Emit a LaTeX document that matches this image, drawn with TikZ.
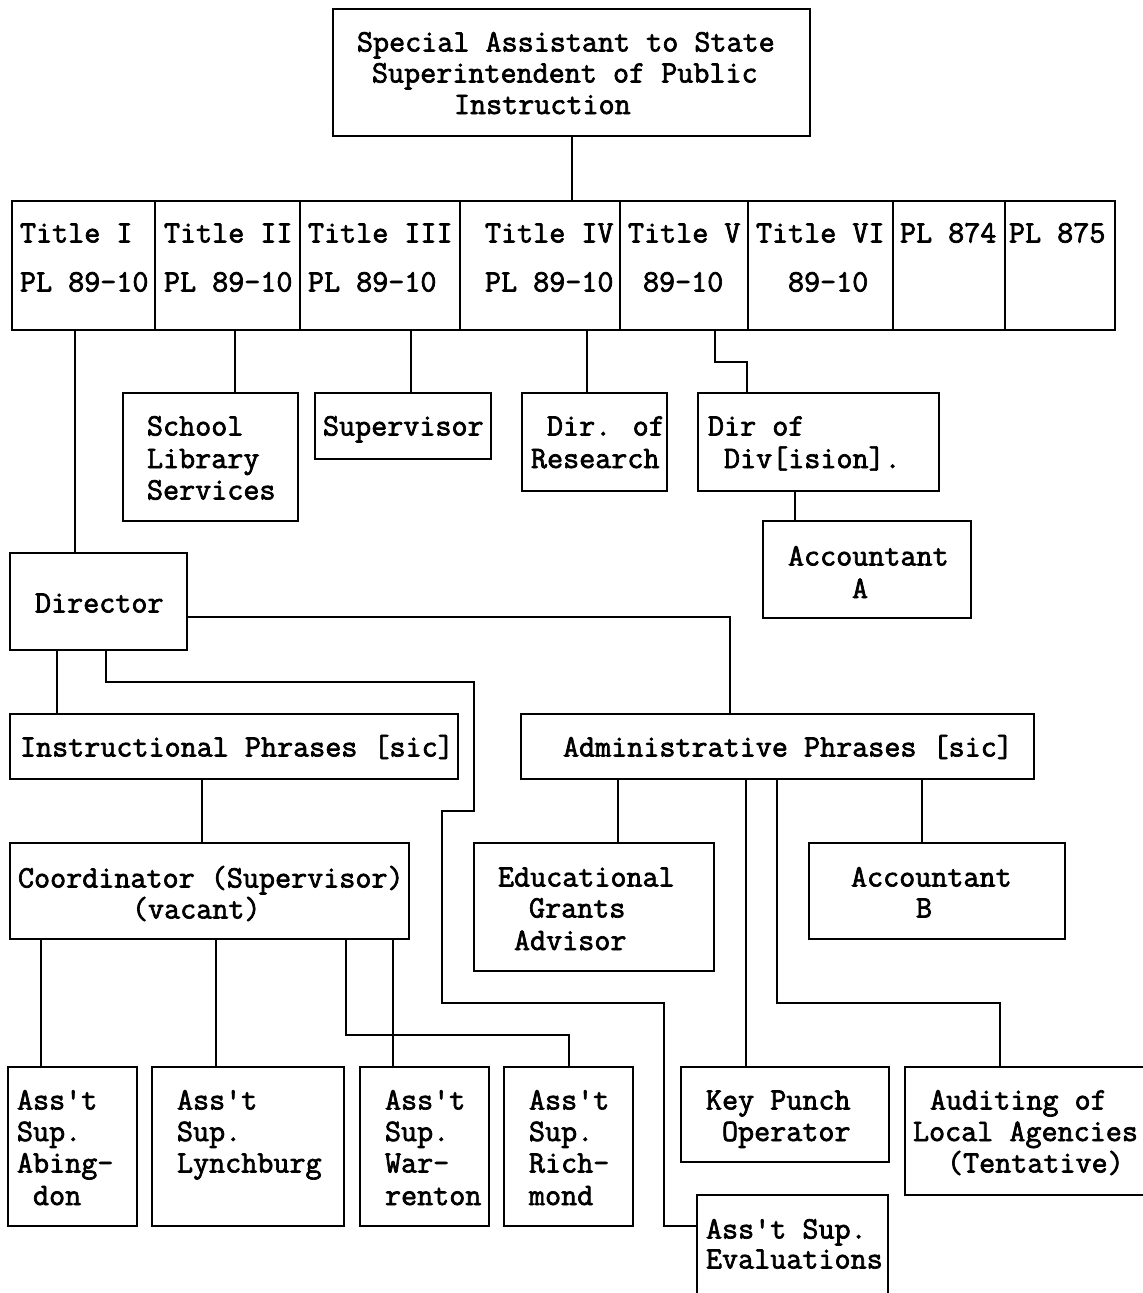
\documentclass[tikz,border=0pt]{standalone}
\usepackage{fontspec}
\newfontface\twfont{Latin Modern Mono}[FakeBold=2.2]
\begin{document}
\begin{tikzpicture}[x=1pt,y=-1pt,
  box/.style={draw, line width=2.2pt, inner sep=0pt, outer sep=0pt, anchor=north west},
  conn/.style={line width=2pt},
  lbl/.style={anchor=base west, inner sep=0pt, outer sep=0pt, font=\fontsize{31.2}{31}\twfont}]
\newcommand\bx[5]{\node[box, minimum width={(#4-#2)*1pt}, minimum height={(#5-#3)*1pt}] (#1) at (#2,#3) {};}
\newcommand\tl[4]{\node[lbl] (#1) at (#2,#3) {#4};}
\useasboundingbox (0,0) rectangle (1143,1293);
\fill[white] (0,0) rectangle (1143,1293);
\clip (0,0) rectangle (1143,1293);
% ---------- boxes ----------
\bx{top}{333}{9}{810}{136}
\bx{t1}{12}{201}{155}{330}
\bx{t2}{155}{201}{300}{330}
\bx{t3}{300}{201}{460}{330}
\bx{t4}{460}{201}{620}{330}
\bx{t5}{620}{201}{748}{330}
\bx{t6}{748}{201}{893}{330}
\bx{t7}{893}{201}{1005}{330}
\bx{t8}{1005}{201}{1115}{330}
\bx{sls}{123}{393}{298}{521}
\bx{sup}{315}{393}{491}{459}
\bx{dor}{522}{393}{667}{491}
\bx{dod}{698}{393}{939}{491}
\bx{acca}{763}{521}{971}{618}
\bx{dir}{10}{553}{187}{650}
\bx{instr}{10}{714}{458}{779}
\bx{admin}{521}{714}{1034}{779}
\bx{coord}{10}{843}{409}{939}
\bx{ega}{474}{843}{714}{971}
\bx{accb}{809}{843}{1065}{939}
\bx{abing}{8}{1067}{137}{1226}
\bx{lynch}{152}{1067}{344}{1226}
\bx{warr}{360}{1067}{489}{1226}
\bx{rich}{504}{1067}{633}{1226}
\bx{kpo}{681}{1067}{889}{1162}
\bx{aud}{905}{1067}{1155}{1195}
\bx{eval}{697}{1195}{888}{1300}
% ---------- connectors ----------
\draw[conn] (top.south) -- (top.south |- t4.north);
\draw[conn] ([xshift=-8.5pt]t1.south) -- ([xshift=-8.5pt]t1.south |- dir.north);
\draw[conn] ([xshift=7.5pt]t2.south) -- ([xshift=7.5pt]t2.south |- sls.north);
\draw[conn] ([xshift=31pt]t3.south) -- ([xshift=31pt]t3.south |- sup.north);
\draw[conn] ([xshift=47pt]t4.south) -- ([xshift=47pt]t4.south |- dor.north);
\draw[conn] ([xshift=31pt]t5.south) -- (715,362) -- (747,362) -- ([xshift=-71.5pt]dod.north);
\draw[conn] ([xshift=-23.5pt]dod.south) -- ([xshift=-23.5pt]dod.south |- acca.north);
\draw[conn] ([xshift=-41.5pt]dir.south) -- ([xshift=-41.5pt]dir.south |- instr.north);
\draw[conn] ([yshift=-15.5pt]dir.east) -- (730,617) -- ([xshift=-47.5pt]admin.north);
\draw[conn] ([xshift=7.5pt]dir.south) -- (106,682) -- (474,682) -- (474,811) -- (442,811)
  -- (442,1003) -- (664,1003) -- (664,1226) -- ([yshift=21.5pt]eval.west);
\draw[conn] ([xshift=-32pt]instr.south) -- ([xshift=-32pt]instr.south |- coord.north);
\draw[conn] ([xshift=-168.5pt]coord.south) -- ([xshift=-168.5pt]coord.south |- abing.north);
\draw[conn] ([xshift=6.5pt]coord.south) -- ([xshift=6.5pt]coord.south |- lynch.north);
\draw[conn] ([xshift=183.5pt]coord.south) -- ([xshift=183.5pt]coord.south |- warr.north);
\draw[conn] ([xshift=136.5pt]coord.south) -- (346,1035) -- (568.5,1035) -- (rich.north);
\draw[conn] ([xshift=-159.5pt]admin.south) -- ([xshift=-159.5pt]admin.south |- ega.north);
\draw[conn] ([xshift=-31.5pt]admin.south) -- ([xshift=-31.5pt]admin.south |- kpo.north);
\draw[conn] ([xshift=-0.5pt]admin.south) -- (777,1003) -- (1000,1003) -- ([xshift=-30pt]aud.north);
\draw[conn] ([xshift=144.5pt]admin.south) -- ([xshift=144.5pt]admin.south |- accb.north);
% ---------- texts ----------
\tl{l-top1}{357}{51.5}{Special Assistant to State}
\tl{l-top2}{372}{82.5}{Superintendent of Public}
\tl{l-top3}{454}{114}{Instruction}
\tl{l-t1a}{20}{242.5}{Title I}
\tl{l-t2a}{164}{242.5}{Title II}
\tl{l-t3a}{308}{242.5}{Title III}
\tl{l-t4a}{485}{242.5}{Title IV}
\tl{l-t5a}{628}{242.5}{Title V}
\tl{l-t6a}{756}{242.5}{Title VI}
\tl{l-t7a}{900}{242.5}{PL 874}
\tl{l-t8a}{1009}{242.5}{PL 875}
\tl{l-t1b}{20}{291.5}{PL 89-10}
\tl{l-t2b}{164}{291.5}{PL 89-10}
\tl{l-t3b}{308}{291.5}{PL 89-10}
\tl{l-t4b}{485}{291.5}{PL 89-10}
\tl{l-t5b}{643}{291.5}{89-10}
\tl{l-t6b}{788}{291.5}{89-10}
\tl{l-sls1}{147}{435.5}{School}
\tl{l-sls2}{147}{468}{Library}
\tl{l-sls3}{147}{499.5}{Services}
\tl{l-sup}{323}{435.5}{Supervisor}
\tl{l-dor1}{547}{435.5}{Dir. of}
\tl{l-dor2}{531}{468}{Research}
\tl{l-dod1}{708}{435.5}{Dir of}
\tl{l-dod2}{724}{468}{Div[ision].}
\tl{l-acca1}{788}{565.5}{Accountant}
\tl{l-acca2}{852}{598}{A}
\tl{l-dir}{35}{612.5}{Director}
\tl{l-instr}{20}{756.5}{Instructional Phrases [sic]}
\tl{l-admin}{563}{756.5}{Administrative Phrases [sic]}
\tl{l-coord1}{18}{887.5}{Coordinator (Supervisor)}
\tl{l-coord2}{132}{918.5}{(vacant)}
\tl{l-ega1}{498}{886.5}{Educational}
\tl{l-ega2}{529}{917.5}{Grants}
\tl{l-ega3}{514}{950}{Advisor}
\tl{l-accb1}{851}{886.5}{Accountant}
\tl{l-accb2}{916}{917.5}{B}
\tl{l-ab1}{17}{1109.5}{Ass't}
\tl{l-ab2}{17}{1141}{Sup.}
\tl{l-ab3}{17}{1172.5}{Abing-}
\tl{l-ab4}{33}{1205}{don}
\tl{l-ly1}{177}{1109.5}{Ass't}
\tl{l-ly2}{177}{1141}{Sup.}
\tl{l-ly3}{177}{1172.5}{Lynchburg}
\tl{l-wa1}{385}{1109.5}{Ass't}
\tl{l-wa2}{385}{1141}{Sup.}
\tl{l-wa3}{385}{1172.5}{War-}
\tl{l-wa4}{385}{1205}{renton}
\tl{l-ri1}{529}{1109.5}{Ass't}
\tl{l-ri2}{529}{1141}{Sup.}
\tl{l-ri3}{529}{1172.5}{Rich-}
\tl{l-ri4}{529}{1205}{mond}
\tl{l-kpo1}{706}{1109.5}{Key Punch}
\tl{l-kpo2}{722}{1141}{Operator}
\tl{l-aud1}{930}{1109.5}{Auditing of}
\tl{l-aud2}{913}{1141}{Local Agencies}
\tl{l-aud3}{947}{1172.5}{(Tentative)}
\tl{l-ev1}{706}{1238.5}{Ass't Sup.}
\tl{l-ev2}{706}{1268.5}{Evaluations}
\end{tikzpicture}
\end{document}
